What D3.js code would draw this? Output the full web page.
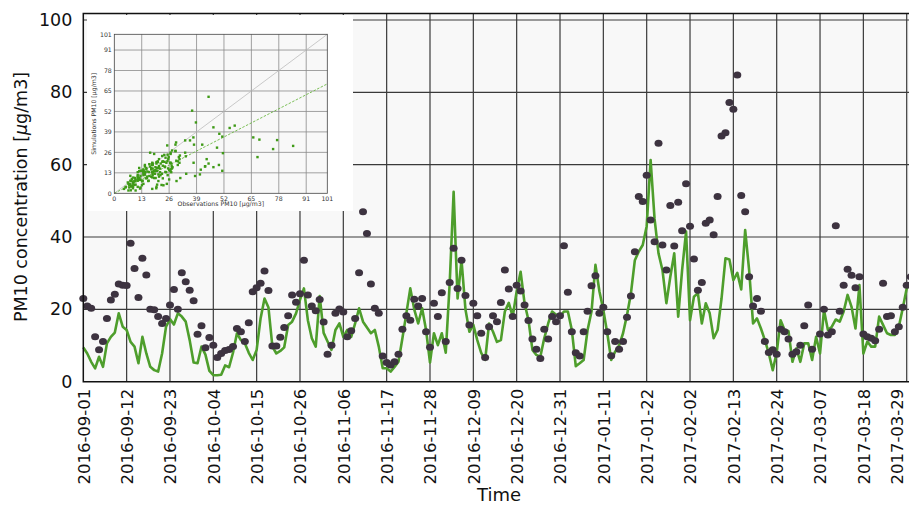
<!DOCTYPE html>
<html>
<head>
<meta charset="utf-8">
<script src="https://cdn.jsdelivr.net/npm/d3@7"></script>
<style>
  html, body { margin: 0; padding: 0; background: #fff; }
  svg { display: block; font-family: "DejaVu Sans", sans-serif; }
</style>
</head>
<body>
<svg id="chart" width="909" height="506"></svg>
<script>
// Daily PM10 at one station, 2016-09-01 onwards
const startDay = "2016-09-01";

// Modelled daily mean (green line)
const simulated = [
  9.5, 7.8, 5.5, 3.7, 6.9, 4.1, 10.6, 12.4, 13.6, 18.9,
  15.2, 14.3, 11.0, 9.7, 5.1, 12.4, 7.8, 4.1, 3.2, 2.8,
  7.8, 15.2, 17.3, 15.8, 18.9, 18.0, 16.6, 11.5, 5.3, 5.1,
  9.7, 7.5, 3.0, 1.8, 1.8, 1.9, 4.5, 4.0, 8.0, 13.4,
  11.5, 10.6, 8.0, 6.0, 8.8, 17.5, 23.0, 20.5, 9.7, 7.8,
  8.5, 9.5, 15.7, 16.6, 18.9, 22.6, 25.8, 17.0, 12.0, 9.7,
  23.7, 13.5, 11.1, 8.8, 14.3, 16.1, 12.4, 14.3, 12.4, 16.1,
  20.3, 16.6, 15.0, 13.4, 14.3, 9.7, 3.7, 3.7, 2.8, 4.1,
  5.5, 12.0, 18.9, 25.8, 20.0, 16.1, 20.3, 14.3, 5.3, 13.4,
  10.1, 13.4, 8.0, 27.2, 52.5, 23.0, 33.6, 20.0, 13.8, 15.7,
  11.5, 8.0, 6.0, 16.1, 13.8, 11.0, 11.5, 19.4, 21.8, 18.0,
  25.0, 30.4, 21.7, 17.0, 8.8, 7.4, 6.9, 12.0, 16.1, 19.4,
  18.5, 18.0, 19.4, 19.4, 14.3, 4.3, 5.1, 6.0, 14.3, 19.4,
  32.3, 25.0, 19.8, 13.4, 6.0, 8.3, 10.0, 13.4, 18.4, 24.4,
  33.6, 36.0, 37.8, 43.0, 61.3, 45.0, 35.5, 30.9, 21.7, 29.0,
  35.5, 18.0, 30.9, 41.5, 17.0, 23.5, 24.5, 16.1, 21.7, 18.9,
  12.0, 14.3, 23.0, 34.1, 33.8, 28.1, 30.1, 25.5, 41.9, 30.9,
  16.1, 17.5, 14.7, 11.5, 7.8, 3.2, 8.0, 17.0, 14.3, 14.0,
  5.5, 9.2, 5.5, 10.6, 10.6, 6.0, 12.4, 7.8, 19.8, 14.3,
  15.2, 17.2, 16.6, 19.4, 24.0, 20.7, 14.7, 26.7, 7.8, 11.1,
  9.7, 9.7, 18.0, 15.7, 13.4, 12.9, 12.9, 15.2, 20.3, 25.8,
  27.0
];

// Measured daily mean (dark dots); null = no measurement
const observed = [
  23.0, 20.9, 20.3, 12.4, 8.8, 11.1, 17.5, 22.6, 24.2, 27.0,
  26.7, 26.6, 38.3, 31.3, 23.3, 34.1, 29.5, 20.0, 19.9, 18.0,
  16.1, 17.5, 21.2, 25.5, 20.0, 30.1, 27.6, 25.3, 22.4, 13.1,
  15.5, 9.4, 12.2, 10.1, 6.7, 7.8, 8.6, 8.9, 9.7, 14.7,
  13.8, 11.1, 16.3, 24.9, 26.0, 27.2, 30.6, 25.2, 9.9, 9.9,
  12.3, 15.0, 18.2, 24.0, 22.0, 24.3, 33.6, 24.0, 20.9, 19.6,
  22.7, 16.5, 7.6, 10.1, 18.9, 20.1, 19.3, 12.4, 14.1, 17.5,
  30.1, 47.0, 41.0, 27.0, 20.3, 18.9, 7.1, 5.3, 4.6, 5.5,
  7.6, 14.5, 18.2, 17.0, 22.8, 20.9, 23.0, 13.8, 9.5, 21.7,
  18.0, 24.6, 11.1, 27.4, 36.9, 25.8, 33.6, 23.8, 15.7, 21.7,
  18.2, 13.4, 6.7, 15.2, 18.2, 16.6, 21.9, 30.9, 25.6, 18.0,
  26.7, 25.1, 21.2, 16.9, 11.8, 9.0, 6.4, 14.5, 11.8, 18.0,
  16.6, 18.2, 37.6, 24.7, 13.8, 8.0, 7.1, 13.8, 19.5, 26.5,
  29.3, 18.9, 20.6, 13.8, 7.2, 11.1, 9.0, 11.1, 17.8, 23.7,
  35.9, 51.2, 49.8, 57.1, 44.7, 38.7, 65.9, 37.8, 30.9, 48.7,
  37.5, 49.6, 41.7, 54.7, 43.0, 33.9, 25.3, 27.4, 43.8, 44.7,
  40.6, 51.2, 67.9, 68.8, 77.2, 75.3, 84.8, 51.5, 47.0, 29.0,
  20.9, 23.0, 19.5, 11.1, 8.1, 8.8, 7.6, 14.5, 13.8, 11.8,
  7.6, 8.3, 10.1, 15.5, 21.2, 9.0, null, 13.2, 20.0, 12.9,
  13.8, 43.1, 19.5, 26.7, 31.1, 29.4, 26.0, 29.0, 13.2, 12.4,
  12.0, 11.3, 14.5, 27.2, 18.0, 18.2, 13.8, 15.2, 20.6, 26.7,
  29.0
];

const dateTicks = [
  "2016-09-01", "2016-09-12", "2016-09-23", "2016-10-04", "2016-10-15",
  "2016-10-26", "2016-11-06", "2016-11-17", "2016-11-28", "2016-12-09",
  "2016-12-20", "2016-12-31", "2017-01-11", "2017-01-22", "2017-02-02",
  "2017-02-13", "2017-02-24", "2017-03-07", "2017-03-18", "2017-03-29"
];
const concTicks = [0, 20, 40, 60, 80, 100];

// scatter inset: axis ticks and the fitted line end points
const insetTicks = [0, 13, 26, 39, 52, 65, 78, 91, 101];
const fitLine = [[0, 0], [101, 69.5]];

const parse = d3.utcParse("%Y-%m-%d");
const t0 = parse(startDay);
const days = simulated.map((_, i) => d3.utcDay.offset(t0, i));

const svg = d3.select("#chart");
const W = 909, H = 506;

const plot = { left: 83.3, bottom: 381.7, top: 13.5 };
const x = d3.scaleUtc()
  .domain([parse(dateTicks[0]), parse(dateTicks[dateTicks.length - 1])])
  .range([plot.left, 906.7]);
const y = d3.scaleLinear().domain([0, 100]).range([plot.bottom, 20.0]);
const xEnd = x(d3.utcDay.offset(parse(dateTicks[dateTicks.length - 1]), 3));

svg.append("rect").attr("width", W).attr("height", H).attr("fill", "#fff");

// plotting area
svg.append("rect")
  .attr("x", plot.left).attr("y", plot.top)
  .attr("width", xEnd - plot.left).attr("height", plot.bottom - plot.top)
  .attr("fill", "#f8f8f8");

const gridColor = "#3a3a3a";
const grid = svg.append("g");
grid.selectAll("line.v").data(dateTicks.slice(1)).join("line")
  .attr("x1", d => x(parse(d))).attr("x2", d => x(parse(d)))
  .attr("y1", plot.top).attr("y2", plot.bottom)
  .attr("stroke", gridColor).attr("stroke-width", 1.2);
grid.selectAll("line.h").data(concTicks.slice(1)).join("line")
  .attr("x1", plot.left).attr("x2", xEnd)
  .attr("y1", d => y(d)).attr("y2", d => y(d))
  .attr("stroke", gridColor).attr("stroke-width", 1.2);

// simulated series
svg.append("path")
  .datum(simulated)
  .attr("fill", "none")
  .attr("stroke", "#4e9e2c")
  .attr("stroke-width", 2.6)
  .attr("stroke-linejoin", "round")
  .attr("d", d3.line().x((d, i) => x(days[i])).y(d => y(d)));

// observed series
svg.append("g").selectAll("ellipse")
  .data(observed.map((v, i) => ({ v, t: days[i] })).filter(d => d.v != null))
  .join("ellipse")
  .attr("cx", d => x(d.t)).attr("cy", d => y(d.v))
  .attr("rx", 4).attr("ry", 3.5)
  .attr("fill", "#3d3340");

// frame
svg.append("path")
  .attr("d", `M${xEnd},${plot.top}H${plot.left}V${plot.bottom}H${xEnd}`)
  .attr("fill", "none").attr("stroke", "#111").attr("stroke-width", 1.5);

// y axis labels
const yAxis = svg.append("g").attr("transform", `translate(${plot.left},0)`)
  .call(d3.axisLeft(y).tickValues(concTicks).tickSize(0).tickPadding(11));
yAxis.select(".domain").remove();
yAxis.selectAll("text").attr("font-size", 17.5).attr("fill", "#111")
  .attr("font-family", "DejaVu Sans, sans-serif");

// x axis labels (vertical); the last one is kept inside the page edge
const xAxis = svg.append("g").attr("transform", `translate(0,${plot.bottom})`)
  .call(d3.axisBottom(x).tickValues(dateTicks.map(parse)).tickSize(0)
    .tickFormat(d3.utcFormat("%Y-%m-%d")));
xAxis.select(".domain").remove();
xAxis.selectAll("text")
  .attr("font-size", 16.5).attr("fill", "#111")
  .attr("font-family", "DejaVu Sans, sans-serif")
  .attr("transform", "rotate(-90)")
  .attr("text-anchor", "end")
  .attr("x", -7).attr("y", 0).attr("dy", "0.35em");
xAxis.selectAll(".tick").filter((d, i, n) => i === n.length - 1)
  .select("text").attr("y", -9.5);

svg.append("text")
  .attr("x", 499).attr("y", 501)
  .attr("text-anchor", "middle").attr("font-size", 18).attr("fill", "#111")
  .text("Time");

const yl = svg.append("text")
  .attr("transform", "translate(27,197) rotate(-90)")
  .attr("text-anchor", "middle").attr("font-size", 17.5).attr("fill", "#111");
yl.append("tspan").text("PM10 concentration [");
yl.append("tspan").attr("font-style", "italic").text("μ");
yl.append("tspan").text("g/m3]");

// ---- inset: simulated vs observed scatter ----
const inset = svg.append("g");
inset.append("rect")
  .attr("x", 87).attr("y", 15).attr("width", 266).attr("height", 196)
  .attr("fill", "#fff");

const ix = d3.scaleLinear().domain([0, 101]).range([114.3, 327.3]);
const iy = d3.scaleLinear().domain([0, 101]).range([193.3, 34.3]);

inset.append("rect")
  .attr("x", ix(0)).attr("y", iy(101))
  .attr("width", ix(101) - ix(0)).attr("height", iy(0) - iy(101))
  .attr("fill", "#f8f8f8");

inset.selectAll("line.iv").data(insetTicks.slice(1, -1)).join("line")
  .attr("x1", d => ix(d)).attr("x2", d => ix(d))
  .attr("y1", iy(0)).attr("y2", iy(101))
  .attr("stroke", "#8a8a8a").attr("stroke-width", 0.8);
inset.selectAll("line.ih").data(insetTicks.slice(1, -1)).join("line")
  .attr("x1", ix(0)).attr("x2", ix(101))
  .attr("y1", d => iy(d)).attr("y2", d => iy(d))
  .attr("stroke", "#8a8a8a").attr("stroke-width", 0.8);

// 1:1 reference
inset.append("line")
  .attr("x1", ix(0)).attr("y1", iy(0)).attr("x2", ix(101)).attr("y2", iy(101))
  .attr("stroke", "#bdbdbd").attr("stroke-width", 0.8);

inset.append("line")
  .attr("x1", ix(fitLine[0][0])).attr("y1", iy(fitLine[0][1]))
  .attr("x2", ix(fitLine[1][0])).attr("y2", iy(fitLine[1][1]))
  .attr("stroke", "#6cb843").attr("stroke-width", 0.9)
  .attr("stroke-dasharray", "2.5,1.5");

const pairs = observed.map((o, i) => [o, simulated[i]]).filter(p => p[0] != null);
inset.selectAll("rect.pt").data(pairs).join("rect")
  .attr("x", d => ix(d[0]) - 1.2).attr("y", d => iy(d[1]) - 1.2)
  .attr("width", 2.4).attr("height", 2.4)
  .attr("fill", "#3f9a17");

inset.append("rect")
  .attr("x", ix(0)).attr("y", iy(101))
  .attr("width", ix(101) - ix(0)).attr("height", iy(0) - iy(101))
  .attr("fill", "none").attr("stroke", "#444").attr("stroke-width", 0.8);

inset.selectAll("text.ixt").data(insetTicks).join("text")
  .attr("x", d => ix(d)).attr("y", iy(0) + 7.5)
  .attr("text-anchor", "middle").attr("font-size", 6.2).attr("fill", "#333")
  .text(d => d);
inset.selectAll("text.iyt").data(insetTicks).join("text")
  .attr("x", ix(0) - 2.5).attr("y", d => iy(d) + 2.2)
  .attr("text-anchor", "end").attr("font-size", 6.2).attr("fill", "#333")
  .text(d => d);
inset.append("text")
  .attr("x", ix(50.5)).attr("y", 206)
  .attr("text-anchor", "middle").attr("font-size", 6.2).attr("fill", "#333")
  .text("Observations PM10 [µg/m3]");
inset.append("text")
  .attr("transform", `translate(96,${iy(50.5)}) rotate(-90)`)
  .attr("text-anchor", "middle").attr("font-size", 6.2).attr("fill", "#333")
  .text("Simulations PM10 [µg/m3]");
</script>
</body>
</html>
